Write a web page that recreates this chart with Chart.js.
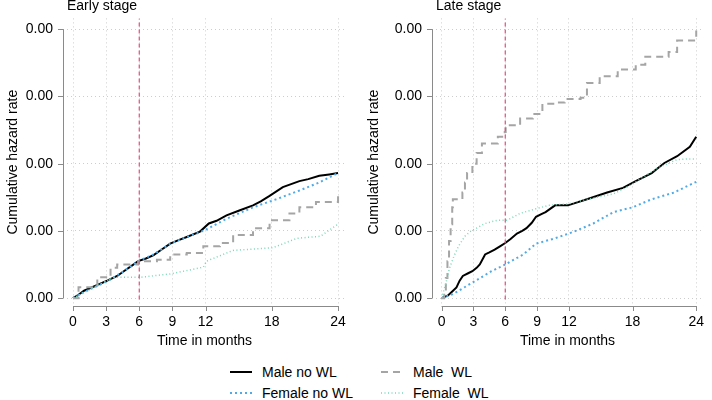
<!DOCTYPE html>
<html lang="en">
<head>
<meta charset="UTF-8">
<title>Cumulative hazard rate</title>
<script src="https://cdn.jsdelivr.net/npm/chart.js@4.4.1/dist/chart.umd.min.js"></script>
<style>
    body { margin: 0; background: #fff; font-family: "Liberation Sans", Arial, sans-serif; }
    .wrap { position: relative; width: 712px; height: 400px; overflow: hidden; }
    #c_early { position: absolute; left: 0; top: 0; }
    #c_late { position: absolute; left: 361px; top: 0; }
    .leg { position: absolute; font-size: 14px; color: #000; line-height: 16px; }
    .leg svg { position: absolute; left: 0; top: 3px; }
    .leg span { position: absolute; left: 32px; top: 0; white-space: pre; }
</style>
</head>
<body>
<div class="wrap">
    <canvas id="c_early" width="356" height="352"></canvas>
    <canvas id="c_late" width="351" height="352"></canvas>

    <div class="leg" style="left:230px; top:364px;">
        <svg width="24" height="10"><line x1="0" y1="5" x2="22" y2="5" stroke="#000" stroke-width="2"/></svg>
        <span>Male no WL</span>
    </div>
    <div class="leg" style="left:230px; top:385px;">
        <svg width="24" height="10"><line x1="0" y1="5" x2="22" y2="5" stroke="rgb(80,170,230)" stroke-width="2" stroke-dasharray="2,3"/></svg>
        <span>Female no WL</span>
    </div>
    <div class="leg" style="left:381px; top:364px;">
        <svg width="24" height="10"><line x1="0" y1="5" x2="22" y2="5" stroke="rgb(165,165,165)" stroke-width="2" stroke-dasharray="7,5"/></svg>
        <span>Male  WL</span>
    </div>
    <div class="leg" style="left:381px; top:385px;">
        <svg width="24" height="10"><line x1="0" y1="5" x2="22" y2="5" stroke="rgb(120,215,185)" stroke-width="1.5" stroke-dasharray="1,2.5"/></svg>
        <span>Female  WL</span>
    </div>
</div>

<script>
// eixos
const xTicks = [0, 3, 6, 9, 12, 18, 24];
const yTicks = [0, 1, 2, 3, 4];
const yTickLabels = ['0.00', '0.00', '0.00', '0.00', '0.00'];
const vline = [6];

// early stage
const earlyMaleNoWLTime = [0, 0.5, 1, 2, 3.1, 4.0, 4.6, 5.3, 5.9, 6.6, 7.3, 8.0, 8.8, 9.5, 10.3, 11.5, 12.3, 13.0, 13.9, 15.0, 16.3, 17.0, 17.8, 19.0, 20.5, 21.3, 22.3, 23.2, 24];
const earlyMaleNoWL = [0, 0.05, 0.11, 0.18, 0.26, 0.33, 0.40, 0.48, 0.55, 0.59, 0.64, 0.72, 0.81, 0.86, 0.91, 0.99, 1.11, 1.15, 1.23, 1.30, 1.38, 1.44, 1.52, 1.65, 1.74, 1.77, 1.82, 1.84, 1.86];
const earlyFemaleNoWLTime = [0, 1, 3.1, 4.6, 5.9, 7.3, 8.8, 10.3, 11.5, 12.3, 13.9, 16.3, 18.4, 20.5, 22.3, 24];
const earlyFemaleNoWL = [0, 0.09, 0.25, 0.40, 0.55, 0.65, 0.81, 0.91, 0.98, 1.04, 1.18, 1.35, 1.47, 1.60, 1.72, 1.86];
const earlyMaleWLTime = [0, 0.5, 2.2, 3.4, 4.0, 5.9, 7.6, 8.8, 10.3, 11.8, 13.3, 14.5, 16.3, 17.8, 19.6, 20.5, 22, 24];
const earlyMaleWL = [0, 0.16, 0.31, 0.45, 0.50, 0.55, 0.57, 0.65, 0.67, 0.77, 0.82, 0.94, 1.04, 1.16, 1.26, 1.35, 1.43, 1.56];
const earlyFemaleWLTime = [0, 2.5, 3.7, 6.1, 8.8, 11.8, 12.1, 13.3, 14.5, 18.1, 20.3, 22.4, 24];
const earlyFemaleWL = [0, 0.21, 0.31, 0.31, 0.36, 0.46, 0.55, 0.63, 0.71, 0.75, 0.89, 0.92, 1.10];

// late stage
const lateMaleNoWLTime = [0, 0.6, 1.0, 1.4, 1.7, 2.0, 2.5, 2.9, 3.3, 3.6, 4.1, 4.5, 5.0, 5.5, 6.0, 6.5, 7.1, 7.6, 8.0, 8.5, 8.9, 9.4, 9.8, 10.7, 11.9, 13.7, 15.6, 17.1, 18.3, 19.8, 21.0, 22.2, 23.4, 24];
const lateMaleNoWL = [0, 0.04, 0.10, 0.16, 0.26, 0.33, 0.37, 0.40, 0.45, 0.50, 0.65, 0.68, 0.72, 0.77, 0.82, 0.88, 0.96, 1.00, 1.04, 1.12, 1.21, 1.25, 1.28, 1.38, 1.38, 1.47, 1.57, 1.64, 1.74, 1.86, 2.01, 2.11, 2.25, 2.40];
const lateFemaleNoWLTime = [0, 1.06, 2.9, 4.7, 6.0, 7.7, 8.9, 10.7, 12.5, 14.3, 16.2, 18.0, 19.8, 21.9, 24];
const lateFemaleNoWL = [0, 0.06, 0.23, 0.40, 0.50, 0.65, 0.81, 0.89, 0.99, 1.11, 1.28, 1.35, 1.47, 1.57, 1.73];
const lateMaleWLTime = [0, 0.25, 0.4, 0.55, 0.7, 0.85, 1.0, 1.06, 1.96, 2.2, 2.4, 2.9, 3.3, 3.8, 5.3, 5.95, 6.04, 6.8, 7.4, 8.6, 9.5, 10.7, 11.6, 13.1, 13.7, 14.9, 16.2, 16.6, 17.7, 18.3, 19.2, 20.4, 21.4, 22.2, 23.4, 24];
const lateMaleWL = [0, 0.10, 0.30, 0.55, 0.85, 1.10, 1.35, 1.47, 1.57, 1.72, 1.86, 2.00, 2.16, 2.30, 2.40, 2.47, 2.57, 2.57, 2.67, 2.74, 2.89, 2.91, 2.96, 2.98, 3.20, 3.30, 3.30, 3.40, 3.40, 3.47, 3.59, 3.59, 3.66, 3.83, 3.83, 3.98];
const lateFemaleWLTime = [0, 0.4, 0.75, 1.2, 1.66, 2.2, 2.7, 4.1, 5.3, 6.2, 7.4, 8.9, 10.1, 11.9, 13.7, 16.2, 17.7, 19.2, 20.7, 22.2, 23.1, 24];
const lateFemaleWL = [0, 0.22, 0.45, 0.64, 0.79, 0.92, 0.99, 1.11, 1.16, 1.16, 1.26, 1.33, 1.38, 1.40, 1.47, 1.55, 1.67, 1.82, 1.96, 2.06, 2.07, 2.07];

function pares(t, v) {
    return t.map((x, i) => ({ x: x, y: v[i] }));
}

// eixos no estilo do R, separados da area
const eixosR = {
    id: 'eixosR',
    afterDraw(chart) {
        const ctx = chart.ctx;
        const xs = chart.scales.x, ys = chart.scales.y;
        const a = chart.chartArea;
        ctx.save();
        ctx.strokeStyle = '#8a8a8a';
        ctx.lineWidth = 1;
        ctx.beginPath();
        ctx.moveTo(a.left + 0.5, ys.getPixelForValue(0));
        ctx.lineTo(a.left + 0.5, ys.getPixelForValue(4));
        yTicks.forEach(v => {
            const p = Math.round(ys.getPixelForValue(v)) + 0.5;
            ctx.moveTo(a.left, p);
            ctx.lineTo(a.left - 5, p);
        });
        ctx.moveTo(xs.getPixelForValue(0), a.bottom + 0.5);
        ctx.lineTo(xs.getPixelForValue(24), a.bottom + 0.5);
        xTicks.forEach(v => {
            const p = Math.round(xs.getPixelForValue(v)) + 0.5;
            ctx.moveTo(p, a.bottom);
            ctx.lineTo(p, a.bottom + 5);
        });
        ctx.stroke();
        ctx.fillStyle = '#000';
        ctx.font = '14px "Liberation Sans", Arial, sans-serif';
        ctx.textBaseline = 'alphabetic';
        ctx.fillText(chart.options.plugins.painel, a.left + 4, 10);
        ctx.restore();
    }
};

function montarGrafico(id, titulo, xMax, yLargura, series) {
    const ctx = document.getElementById(id).getContext('2d');
    return new Chart(ctx, {
        type: 'line',
        data: {
            datasets: [
                {
                    label: 'vline',
                    data: [{ x: vline[0], y: -0.02 }, { x: vline[0], y: 4.16 }],
                    borderColor: 'rgb(222,80,130)',
                    borderWidth: 1.2,
                    borderDash: [4, 3],
                    pointRadius: 0
                },
                {
                    label: 'Female  WL',
                    data: series[3],
                    borderColor: 'rgb(120,215,185)',
                    borderWidth: 1.5,
                    borderDash: [1, 2.5],
                    pointRadius: 0
                },
                {
                    label: 'Male  WL',
                    data: series[2],
                    borderColor: 'rgb(165,165,165)',
                    borderWidth: 2,
                    borderDash: [7, 5],
                    stepped: true,
                    pointRadius: 0
                },
                {
                    label: 'Female no WL',
                    data: series[1],
                    borderColor: 'rgb(80,170,230)',
                    borderWidth: 2,
                    borderDash: [2, 3],
                    pointRadius: 0
                },
                {
                    label: 'Male no WL',
                    data: series[0],
                    borderColor: '#000',
                    borderWidth: 2,
                    pointRadius: 0
                }
            ]
        },
        options: {
            responsive: false,
            animation: false,
            layout: { padding: { top: 13, right: id === 'c_early' ? 10 : 0, left: 0, bottom: 0 } },
            plugins: {
                legend: { display: false },
                tooltip: { enabled: false },
                painel: titulo
            },
            scales: {
                x: {
                    type: 'linear',
                    min: -0.906,
                    max: xMax,
                    afterBuildTicks: s => { s.ticks = xTicks.map(v => ({ value: v })); },
                    afterFit: s => { s.height = 46; },
                    ticks: {
                        autoSkip: false,
                        maxRotation: 0,
                        padding: 8,
                        color: '#000',
                        font: { size: 14, family: '"Liberation Sans", Arial, sans-serif' }
                    },
                    grid: { color: 'rgb(205,205,205)', drawTicks: false, lineWidth: 1 },
                    border: { display: false, dash: [1, 3] },
                    title: {
                        display: true,
                        text: 'Time in months',
                        color: '#000',
                        padding: { top: 0, bottom: 2 },
                        font: { size: 14, family: '"Liberation Sans", Arial, sans-serif' }
                    }
                },
                y: {
                    type: 'linear',
                    min: -0.117,
                    max: 4.16,
                    afterBuildTicks: s => { s.ticks = yTicks.map(v => ({ value: v })); },
                    afterFit: s => { s.width = yLargura; },
                    ticks: {
                        autoSkip: false,
                        padding: 10,
                        color: '#000',
                        font: { size: 14, family: '"Liberation Sans", Arial, sans-serif' },
                        callback: (v, i) => yTickLabels[i]
                    },
                    grid: { color: 'rgb(205,205,205)', drawTicks: false, lineWidth: 1 },
                    border: { display: false, dash: [1, 3] },
                    title: {
                        display: true,
                        text: 'Cumulative hazard rate',
                        color: '#000',
                        padding: { top: 5, bottom: 0 },
                        font: { size: 14, family: '"Liberation Sans", Arial, sans-serif' }
                    }
                }
            }
        },
        plugins: [eixosR]
    });
}

montarGrafico('c_early', 'Early stage', 24.72, 63, [
    pares(earlyMaleNoWLTime, earlyMaleNoWL),
    pares(earlyFemaleNoWLTime, earlyFemaleNoWL),
    pares(earlyMaleWLTime, earlyMaleWL),
    pares(earlyFemaleWLTime, earlyFemaleWL)
]);

montarGrafico('c_late', 'Late stage', 24.64, 71, [
    pares(lateMaleNoWLTime, lateMaleNoWL),
    pares(lateFemaleNoWLTime, lateFemaleNoWL),
    pares(lateMaleWLTime, lateMaleWL),
    pares(lateFemaleWLTime, lateFemaleWL)
]);
</script>
</body>
</html>
